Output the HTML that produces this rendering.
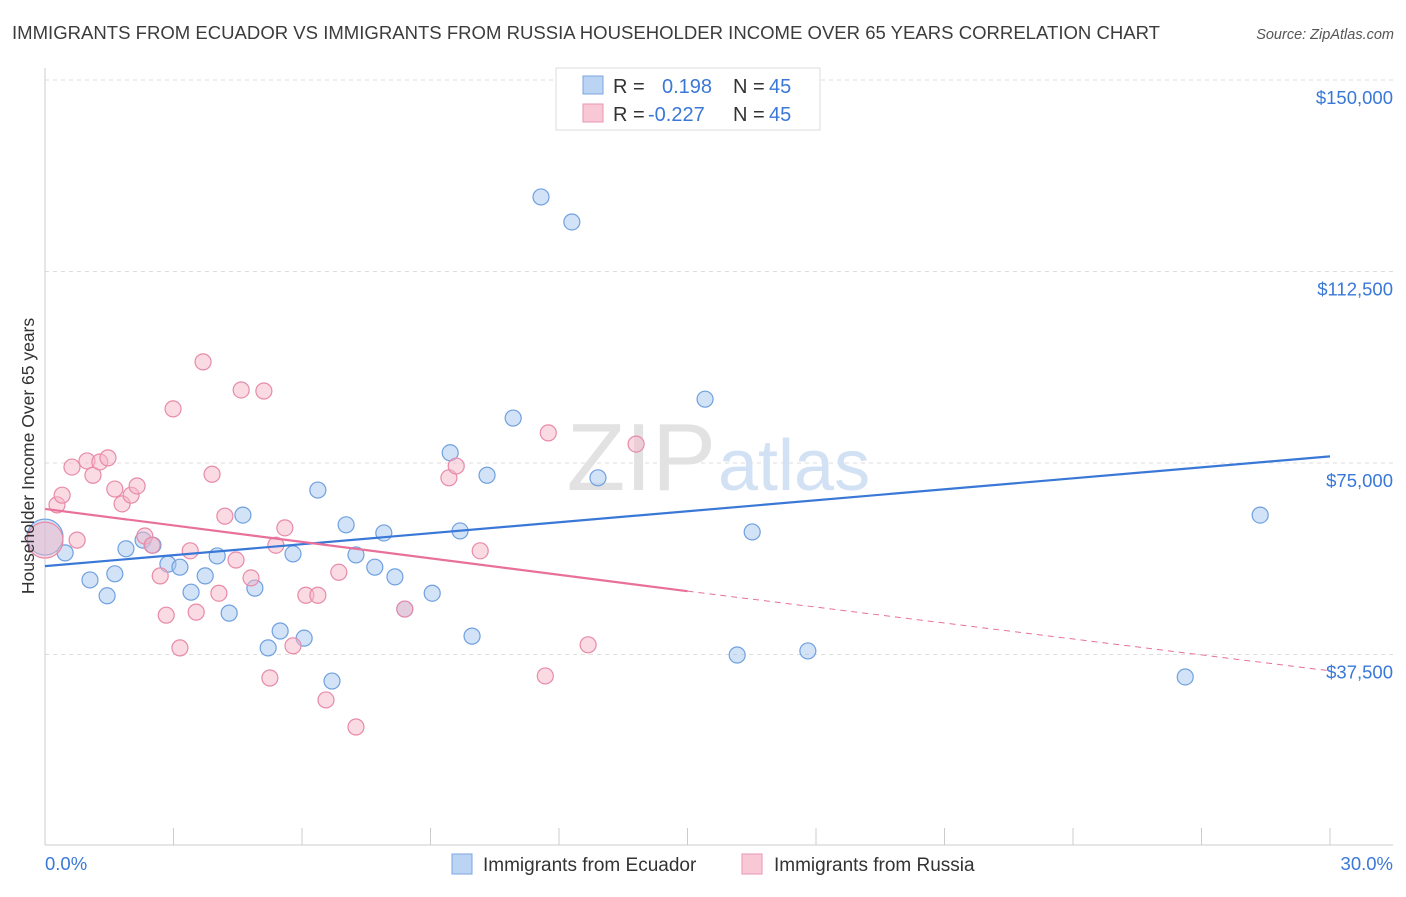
<!DOCTYPE html>
<html><head><meta charset="utf-8"><style>
body{margin:0;background:#fff;font-family:"Liberation Sans",sans-serif}
svg text{font-family:"Liberation Sans",sans-serif}
</style></head><body>
<svg width="1406" height="892">
<text x="12" y="39" font-size="18" fill="#3c3c3c" textLength="1148" lengthAdjust="spacingAndGlyphs">IMMIGRANTS FROM ECUADOR VS IMMIGRANTS FROM RUSSIA HOUSEHOLDER INCOME OVER 65 YEARS CORRELATION CHART</text>
<text x="1394" y="39" font-size="14.5" fill="#555" text-anchor="end" font-style="italic">Source: ZipAtlas.com</text>
<g id="grid"></g>
<text x="716" y="490" font-size="96" fill="#e2e2e2" text-anchor="end" font-family="Liberation Serif">ZIP</text>
<text x="718" y="490" font-size="72" fill="#d2e1f3">atlas</text>
<g id="pts"></g>
<g id="lines"></g>
<text transform="translate(34,456) rotate(-90)" font-size="17.5" fill="#333" text-anchor="middle">Householder Income Over 65 years</text>
<text x="45" y="870" font-size="18.5" fill="#3a78d8">0.0%</text>
<text x="1393" y="870" font-size="18.5" fill="#3a78d8" text-anchor="end">30.0%</text>
<g>
<rect x="556" y="68" width="264" height="62" fill="#fff" stroke="#ddd"/>
<rect x="583" y="76" width="20" height="18" fill="#bcd4f4" stroke="#7aa6e0"/>
<rect x="583" y="104" width="20" height="18" fill="#f8c8d6" stroke="#e896b0"/>
<text x="613" y="93" font-size="20" fill="#333">R =</text>
<text x="662" y="93" font-size="20" fill="#3a78d8">0.198</text>
<text x="733" y="93" font-size="20" fill="#333">N =</text>
<text x="769" y="93" font-size="20" fill="#3a78d8">45</text>
<text x="613" y="121" font-size="20" fill="#333">R =</text>
<text x="648" y="121" font-size="20" fill="#3a78d8">-0.227</text>
<text x="733" y="121" font-size="20" fill="#333">N =</text>
<text x="769" y="121" font-size="20" fill="#3a78d8">45</text>
</g>
<g>
<rect x="452" y="854" width="20" height="20" fill="#bcd4f4" stroke="#7aa6e0"/>
<text x="483" y="871" font-size="19" fill="#333">Immigrants from Ecuador</text>
<rect x="742" y="854" width="20" height="20" fill="#f8c8d6" stroke="#e896b0"/>
<text x="774" y="871" font-size="19" fill="#333">Immigrants from Russia</text>
</g>
</svg>
<script>
const yTicks=[37500,75000,112500,150000];
const yTickLabels=["$37,500","$75,000","$112,500","$150,000"];
const xTicks=[0,3,6,9,12,15,18,21,24,27,30];
const ecuadorX=[0,0.47,1.05,1.45,1.63,1.89,2.29,2.52,2.87,3.15,3.41,3.74,4.02,4.30,4.62,4.90,5.21,5.49,5.79,6.05,6.37,6.70,7.03,7.26,7.70,7.91,8.17,8.40,9.04,9.46,9.69,9.97,10.32,10.93,11.58,12.30,12.91,15.41,16.16,16.51,17.81,26.62,28.37];
const ecuadorY=[60500,57400,52100,49000,53300,58200,59900,58900,55200,54600,49700,52900,56800,45600,64800,50500,38800,42100,57200,40700,69700,32300,62900,57000,54600,61300,52700,46400,49500,77000,61700,41100,72600,83800,127100,122200,72100,87500,37400,61500,38200,33100,64800];
const russiaX=[0,0.28,0.40,0.63,0.75,0.98,1.12,1.28,1.47,1.63,1.80,2.01,2.15,2.33,2.50,2.69,2.83,2.99,3.15,3.39,3.53,3.69,3.90,4.06,4.20,4.46,4.58,4.81,5.11,5.25,5.39,5.60,5.79,6.09,6.37,6.56,6.86,7.26,8.40,9.43,9.60,10.16,11.68,11.75,12.68,13.80];
const russiaY=[59900,66800,68700,74200,59900,75400,72600,75200,76000,69900,67000,68700,70500,60700,58900,52900,45200,85600,38800,57800,45800,94800,72800,49500,64600,56000,89300,52500,89100,32900,58900,62300,39200,49100,49100,28600,53600,23300,46400,72100,74400,57800,33300,80900,39400,78700];
const ecuadorTrend=[54800,76300];
const russiaTrend=[66000,49900,34300];
const X=v=>45+v/30*1285, Y=v=>846-v/37500*191.5;
const NS="http://www.w3.org/2000/svg";
function mk(t,a,p){const e=document.createElementNS(NS,t);for(const k in a)e.setAttribute(k,a[k]);p.appendChild(e);return e;}
const g=document.getElementById('grid');
yTicks.forEach((v,i)=>{
 const l=mk('line',{x1:45,x2:1393,y1:Y(v),y2:Y(v),stroke:'#ddd','stroke-dasharray':'4,4'},g);
 
 
 const t=mk('text',{x:1393,y:Y(v)+24,'font-size':18.5,fill:'#3a78d8','text-anchor':'end'},g);
 t.textContent=yTickLabels[i];
 
 
});
mk('line',{x1:45,x2:45,y1:68,y2:845,stroke:'#ccc'},g);
mk('line',{x1:45,x2:1393,y1:845,y2:845,stroke:'#ccc'},g);
xTicks.forEach(v=>{const l=mk('line',{x1:X(v),x2:X(v),y1:828,y2:845,stroke:'#ccc'},g);
 
 });
const p=document.getElementById('pts');
function pts(xs,ys,fill,stroke,name){xs.forEach((x,i)=>{
 const c=mk('circle',{cx:X(x),cy:Y(ys[i]),r:i==0?18:8,fill:fill,'fill-opacity':0.5,stroke:stroke,'stroke-width':1.2},p);
 
 });}
pts(ecuadorX,ecuadorY,'#a8c8f0','#6fa0e0','ecuador-point');
pts(russiaX,russiaY,'#f5b5c8','#e88aa8','russia-point');
const L=document.getElementById('lines');
let a=mk('line',{x1:X(0),y1:Y(ecuadorTrend[0]),x2:X(30),y2:Y(ecuadorTrend[1]),stroke:'#3a78d8','stroke-width':2.2},L);


a=mk('line',{x1:X(0),y1:Y(russiaTrend[0]),x2:X(15),y2:Y(russiaTrend[1]),stroke:'#e8709a','stroke-width':2.2},L);


a=mk('line',{x1:X(15),y1:Y(russiaTrend[1]),x2:X(30),y2:Y(russiaTrend[2]),stroke:'#e8709a','stroke-width':1,'stroke-dasharray':'6,5'},L);


</script>
</body></html>
